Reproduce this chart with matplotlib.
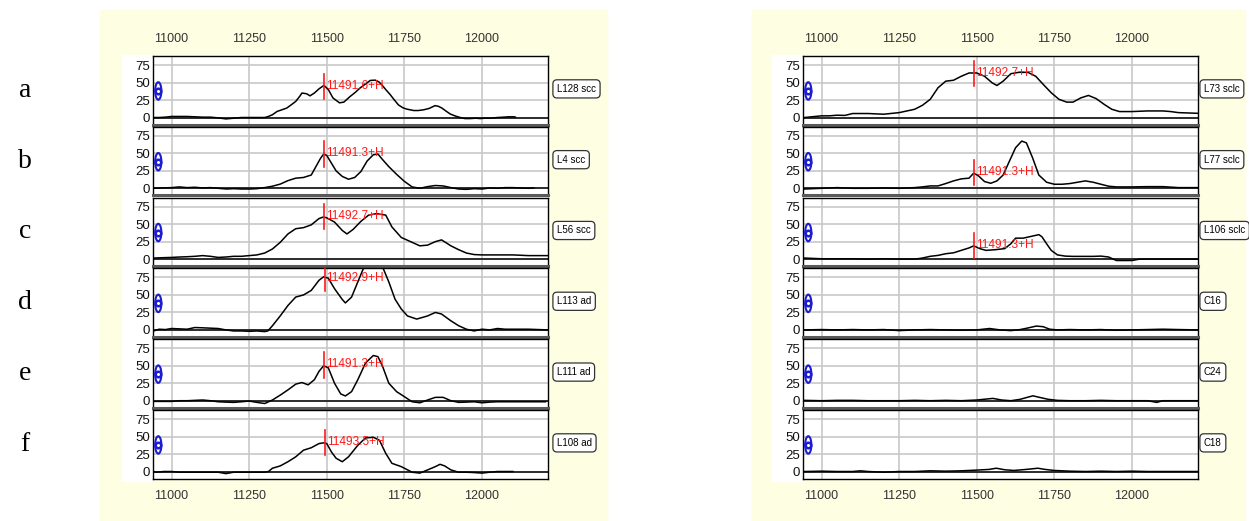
import matplotlib
matplotlib.use("Agg")
import matplotlib.pyplot as plt
from matplotlib.patches import Rectangle, Ellipse
from matplotlib import font_manager

plt.rcParams['font.family'] = ['Liberation Sans', 'DejaVu Sans']

# ---- data ----
row_letters = ["a", "b", "c", "d", "e", "f"]
x_ticks = [11000, 11250, 11500, 11750, 12000]
y_ticks = [0, 25, 50, 75]

# left column
left_labels = ["L128 scc", "L4 scc", "L56 scc", "L113 ad", "L111 ad", "L108 ad"]
left_marks = [11491.6, 11491.3, 11492.7, 11492.9, 11491.3, 11493.5]
left_mark_text = ["11491.6+H", "11491.3+H", "11492.7+H", "11492.9+H", "11491.3+H", "11493.5+H"]
left_mark_y = [45, 50, 62, 74, 52, 42]

x_L128 = [10942, 10960, 10980, 11000, 11025, 11050, 11075, 11100, 11125, 11150, 11175, 11200,
          11225, 11250, 11275, 11300, 11312, 11325, 11340, 11355, 11371, 11385, 11400, 11414,
          11420, 11435, 11446, 11460, 11475, 11491, 11505, 11520, 11541, 11555, 11575, 11592,
          11608, 11625, 11640, 11656, 11668, 11677, 11690, 11704, 11718, 11731, 11745, 11758,
          11780, 11795, 11812, 11830, 11849, 11860, 11871, 11885, 11898, 11915, 11930, 11945,
          11962, 11980, 11995, 12010, 12027, 12050, 12070, 12085, 12103, 12108]
y_L128 = [0, 0, 0.5, 1.5, 1.5, 1.5, 1, 0.5, 0.5, -0.5, -2, -1,
          0, 0, 0, 0, 1.5, 4, 8.7, 11, 13.5, 18, 23, 31,
          35, 34, 31, 35, 41, 46, 40, 28, 21, 22, 30, 36,
          42.5, 48, 53, 53.5, 51, 47, 40, 33, 25, 18, 14, 12,
          10, 10, 11, 13, 17, 16, 13.5, 9, 5, 2, 0, -1.5,
          -1.5, -1, -1.5, -1, -1, 0, 0.5, 1, 1, 0.5]

x_L4 = [10942, 10970, 11000, 11025, 11050, 11075, 11100, 11125, 11150, 11177, 11200, 11225,
        11253, 11275, 11300, 11325, 11350, 11375, 11400, 11425, 11450, 11465, 11480, 11490,
        11500, 11515, 11530, 11550, 11570, 11590, 11610, 11630, 11650, 11665, 11680, 11700,
        11725, 11750, 11775, 11800, 11825, 11850, 11875, 11900, 11925, 11950, 11975, 12000,
        12025, 12050, 12075, 12100, 12125, 12150, 12167]
y_L4 = [0, 0.5, 1, 2, 1, 1.5, 0.5, 1, 0, -1, -0.5, -1,
        -1, -0.5, 1, 3, 6, 11, 14.5, 15.5, 19, 31, 43, 49,
        47, 36, 25, 17, 13, 15.5, 24, 39, 48, 49, 41, 31,
        20, 10, 2, 0, 2.4, 4, 3.4, 1, -1, -1.5, -0.5, -1,
        0.5, 0, 1, 1, 0.5, 0, 0.5]

x_L56 = [10942, 10970, 11000, 11025, 11050, 11075, 11100, 11125, 11150, 11175, 11200, 11225,
         11250, 11275, 11300, 11325, 11350, 11375, 11400, 11425, 11450, 11475, 11490, 11500,
         11525, 11550, 11565, 11585, 11610, 11635, 11660, 11690, 11710, 11740, 11775, 11800,
         11825, 11850, 11870, 11900, 11925, 11950, 11975, 12000, 12050, 12100, 12150, 12213]
y_L56 = [1.5, 2, 2.4, 3, 3.4, 4, 5, 4, 2.4, 3, 4, 4,
         5, 6, 8.7, 14.5, 24, 36, 43.5, 45, 49, 58, 60.4, 59,
         53, 41, 36, 42.5, 54, 63, 65, 63, 46, 31, 24, 19,
         20, 25, 27.5, 19, 13.5, 8.7, 6.5, 6, 6, 6, 5, 5]

x_L113 = [10942, 10960, 10980, 11000, 11025, 11050, 11075, 11100, 11125, 11150, 11175, 11200,
          11225, 11250, 11275, 11300, 11310, 11325, 11350, 11375, 11400, 11425, 11450, 11475,
          11490, 11505, 11525, 11550, 11560, 11580, 11600, 11620, 11640, 11660, 11680, 11700,
          11720, 11740, 11760, 11790, 11825, 11850, 11870, 11900, 11925, 11950, 11975, 12000,
          12025, 12050, 12075, 12100, 12150, 12213]
y_L113 = [-1.5, 1, 0.5, 2, 1.5, 1, 3.4, 3, 2.5, 2, 0, -1.5,
          -1.5, -2, -1.5, -2.4, -1.5, 6, 20, 35, 47, 50, 56.5, 71,
          76, 74, 59, 43.5, 38.6, 47, 68.6, 90, 98, 98, 90, 68.6,
          44, 30, 20, 15.5, 20, 25, 22.7, 13, 6, 1, -1.5, 1,
          0, 2, 1, 1, 1, 0]

x_L111 = [10942, 10970, 11000, 11025, 11050, 11075, 11100, 11125, 11150, 11175, 11200, 11225,
          11250, 11275, 11300, 11325, 11350, 11375, 11400, 11420, 11440, 11460, 11475, 11490,
          11505, 11525, 11545, 11560, 11580, 11600, 11625, 11650, 11665, 11680, 11700, 11725,
          11750, 11775, 11800, 11825, 11850, 11875, 11900, 11925, 11950, 11975, 12000, 12025,
          12050, 12100, 12150, 12205]
y_L111 = [-1, -1, -1, 0, 0, 0.5, 1, 0, -1.5, -2, -2.4, -1.5,
          -0.5, -2.4, -4, 1, 8, 15.5, 23.7, 26, 22.7, 30, 42, 50,
          47, 25, 9.7, 6.8, 13, 30, 54, 64.7, 63, 49, 25, 13,
          5.8, -1.5, -3, 1, 4.8, 4.8, 0, -2.4, -2, -1.5, -3, -2,
          -1.5, -1.5, -1.5, -1.5]

x_L108 = [10942, 10950, 10975, 11000, 11025, 11050, 11100, 11150, 11175, 11200, 11250, 11300,
          11312, 11325, 11350, 11375, 11400, 11425, 11450, 11475, 11490, 11500, 11515, 11530,
          11550, 11570, 11600, 11625, 11650, 11670, 11690, 11710, 11740, 11775, 11800, 11825,
          11850, 11865, 11880, 11900, 11925, 11950, 11975, 12000, 12025, 12050, 12100]
y_L108 = [0, -1, 0, 0, -1, -1, -1, -1, -3, -1, -1, -1,
          0, 4.7, 8, 14, 21, 30.5, 34, 40, 41, 40, 28, 19,
          14, 21, 37.5, 48, 49, 44.6, 26, 11.7, 7, -1, -2.3, 2.3,
          7, 10.3, 8, 2.3, -1, -1, -1.5, -2.3, -1, 0, 0]

# right column
right_labels = ["L73 sclc", "L77 sclc", "L106 sclc", "C16", "C24", "C18"]
right_marks = [11492.7, 11491.3, 11491.3, None, None, None]
right_mark_text = ["11492.7+H", "11491.3+H", "11491.3+H", None, None, None]
right_mark_y = [64, 24, 20, None, None, None]

x_L73 = [10945, 11000, 11025, 11050, 11075, 11100, 11150, 11200, 11250, 11275, 11300, 11325,
         11350, 11375, 11400, 11425, 11450, 11475, 11500, 11525, 11550, 11565, 11585, 11610,
         11635, 11665, 11690, 11715, 11740, 11765, 11790, 11810, 11835, 11860, 11885, 11910,
         11935, 11960, 12000, 12050, 12100, 12125, 12150, 12213]
y_L73 = [0, 2.4, 2.4, 3.3, 3, 5.7, 5.7, 4.7, 7, 9.4, 11.8, 17.5,
         26, 42.5, 52, 53.3, 59, 63.7, 63.7, 59, 49.5, 45.8, 52, 62.7,
         64.6, 64.6, 59, 47, 35.4, 26, 22, 22, 28, 31.6, 27, 19,
         11.8, 8.5, 8.5, 9.4, 9.4, 8.5, 7, 6]

x_L77 = [10945, 11000, 11050, 11075, 11100, 11150, 11200, 11250, 11300, 11325, 11350, 11375,
         11400, 11425, 11450, 11475, 11490, 11505, 11525, 11545, 11565, 11585, 11605, 11625,
         11645, 11660, 11680, 11700, 11725, 11750, 11775, 11800, 11825, 11850, 11875, 11900,
         11925, 11950, 12000, 12050, 12100, 12150, 12213]
y_L77 = [-1, 0, 1, 0.5, 0, 0, 0.5, 0, 1, 2, 3.4, 3.4,
         6.8, 10.6, 13.5, 14.5, 21.7, 18, 9.7, 7.2, 10.6, 19, 38.6, 58,
         67.6, 65, 43.5, 19, 8.7, 5.8, 5.8, 6.8, 8.7, 10.6, 8.7, 5.8,
         3, 2, 2, 2.4, 2.4, 1, 1]

x_L106 = [10945, 11000, 11050, 11100, 11150, 11200, 11250, 11300, 11325, 11350, 11375, 11400,
          11425, 11450, 11475, 11490, 11510, 11530, 11560, 11590, 11610, 11625, 11650, 11670,
          11690, 11700, 11710, 11725, 11740, 11760, 11785, 11810, 11850, 11875, 11900, 11925,
          11950, 12000, 12025, 12100, 12213]
y_L106 = [1.5, 0.5, 0.5, 0.5, 0, 0.5, 0, 0, 1.5, 4, 5.3, 7.7,
          9, 12.5, 16, 19, 15, 12.5, 13.5, 15, 22, 30, 30, 32,
          34, 35, 32, 22, 12.5, 6, 4.3, 3.9, 3.9, 3.9, 4.3, 3,
          -2, -2, 0, 0, 0]

x_C16 = [10945, 11000, 11050, 11100, 11150, 11200, 11250, 11300, 11350, 11400, 11450, 11500,
         11541, 11575, 11610, 11640, 11660, 11692, 11714, 11735, 11760, 11800, 11850, 11900,
         11950, 12000, 12050, 12100, 12150, 12213]
y_C16 = [0, 0.5, 0, 0.5, 0, 0.5, -1, 0, 0.5, 0, -0.5, 0,
         2, 0, -1, 0.5, 2.3, 5.5, 4.6, 1, 0, 0.5, 0, 0.5,
         -0.5, 0, 0.5, 1, 0.5, 0]

x_C24 = [10945, 11000, 11050, 11100, 11150, 11200, 11250, 11300, 11350, 11400, 11450, 11500,
         11552, 11580, 11610, 11640, 11660, 11681, 11700, 11730, 11760, 11800, 11850, 11900,
         11950, 12000, 12050, 12080, 12100, 12150, 12213]
y_C24 = [0.5, 0, 0.5, 0.5, 0, 0, 0, 0.5, 0, 0.5, 0, 1,
         3.3, 1, 0, 2, 4.5, 7, 5, 2, 0.5, 0, 0, 0.5,
         0, 0, 0, -2.4, 0, 0, 0]

x_C18 = [10945, 11000, 11050, 11100, 11125, 11150, 11200, 11250, 11300, 11350, 11400, 11450,
         11500, 11540, 11563, 11590, 11620, 11660, 11697, 11720, 11750, 11800, 11850, 11900,
         11950, 12000, 12050, 12100, 12150, 12213]
y_C18 = [0, 0.5, 0, 0, 1, 0, -1, 0, 0, 1, 0.5, 1,
         2, 3, 4.7, 2.5, 1.5, 3, 4.7, 3, 1.5, 0.5, 0, 0.5,
         0, 0.5, 0, 0, 0, 0]

left_series = [(x_L128, y_L128), (x_L4, y_L4), (x_L56, y_L56),
               (x_L113, y_L113), (x_L111, y_L111), (x_L108, y_L108)]
right_series = [(x_L73, y_L73), (x_L77, y_L77), (x_L106, y_L106),
                (x_C16, y_C16), (x_C24, y_C24), (x_C18, y_C18)]

# ---- layout (pixels of a 1249x521 image) ----
W, H = 1249, 521
YELLOW = "#fefee2"

# narrow font for the sample boxes if we have one
installed = {f.name for f in font_manager.fontManager.ttflist}
if "Liberation Sans Narrow" in installed:
    box_font, box_size = "Liberation Sans Narrow", 8.6
else:
    box_font, box_size = "Liberation Sans", 7.0


def fig_rect(x0, y0, w, h):
    # pixel box (top-left origin) -> figure fraction
    return [x0 / W, 1 - (y0 + h) / H, w / W, h / H]


def draw_panel(ax, xs, ys, label, mark, mark_text, mark_y, row, nrows, box_dx):
    ax.set_xlim(10940, 12213)
    ax.set_ylim(-10, 88)
    ax.set_xticks(x_ticks)
    ax.set_yticks(y_ticks)
    ax.grid(True, color="#c8c8c8", lw=1.2, zorder=0)
    ax.axhline(0, color="#202020", lw=1.3, zorder=2)
    ax.plot(xs, ys, color="black", lw=1.1, zorder=3)

    # red peak marker
    if mark is not None:
        ax.plot([mark, mark], [mark_y - 19, mark_y + 17], color="#ff1a1a", lw=1.2, zorder=4)
        ax.text(mark + 6, mark_y, mark_text, color="#ff1a1a", fontsize=8.6,
                ha="left", va="center", zorder=4)

    # blue icon at the left edge
    ax.plot([10957], [38], marker="o", mfc="none", mec="#1c1cd0", ms=4.0, mew=1.8,
            zorder=5, clip_on=False)
    ax.add_patch(Ellipse((10957, 38), 20, 25, fill=False, ec="#1c1cd0", lw=1.5,
                         zorder=5, clip_on=False))

    # sample label box
    ax.annotate(label, xy=(1, 0.52), xycoords="axes fraction",
                xytext=(box_dx, 0), textcoords="offset pixels",
                ha="left", va="center", fontsize=box_size, family=box_font,
                bbox=dict(boxstyle="round,pad=0.42", fc="white", ec="#333333", lw=0.9))

    ax.tick_params(axis="both", length=0, labelsize=9.5)
    ax.tick_params(axis="y", pad=2, labelcolor="#111111")
    ax.tick_params(axis="x", pad=8, labelsize=9, labelcolor="#333333")
    if row == 0:
        ax.tick_params(axis="x", labeltop=True, labelbottom=False)
    elif row == nrows - 1:
        ax.tick_params(axis="x", labeltop=False, labelbottom=True)
    else:
        ax.tick_params(axis="x", labeltop=False, labelbottom=False)

    for s in ["top", "left", "right"]:
        ax.spines[s].set_color("black")
        ax.spines[s].set_linewidth(1.0)
    if row < nrows - 1:
        ax.spines["bottom"].set_color("#5a5a5a")
        ax.spines["bottom"].set_linewidth(2.2)
    else:
        ax.spines["bottom"].set_color("black")
        ax.spines["bottom"].set_linewidth(1.0)


fig = plt.figure(figsize=(W / 100, H / 100), dpi=100)
fig.patch.set_facecolor("white")

# yellow panels and white strips behind the y tick labels (kept under the axes)
for x0, x1 in [(100, 607), (752, 1245)]:
    fig.patches.append(Rectangle((x0 / W, 0), (x1 - x0) / W, (H - 10) / H,
                                 transform=fig.transFigure, color=YELLOW, zorder=-10))
for ax_left in [153, 803]:
    fig.patches.append(Rectangle(((ax_left - 31) / W, 1 - 481 / H), 31 / W, (481 - 55) / H,
                                 transform=fig.transFigure, color="white", zorder=-9))

row_step = 70.8
row_h = 68.5
nrows = len(row_letters)
for col, (ax_left, series, labels, marks, mtexts, mys, box_dx) in enumerate([
        (153, left_series, left_labels, left_marks, left_mark_text, left_mark_y, 9),
        (803, right_series, right_labels, right_marks, right_mark_text, right_mark_y, 6)]):
    for r in range(nrows):
        top = 56 + row_step * r
        ax = fig.add_axes(fig_rect(ax_left, top, 395, row_h))
        ax.set_facecolor("white")
        xs, ys = series[r]
        draw_panel(ax, xs, ys, labels[r], marks[r], mtexts[r], mys[r], r, nrows, box_dx)

# row letters
for r, letter in enumerate(row_letters):
    cy = 56 + row_step * r + row_h / 2
    fig.text(25 / W, 1 - cy / H, letter, fontsize=20, family="Liberation Serif",
             ha="center", va="center")

fig.savefig("out.png", dpi=100)
